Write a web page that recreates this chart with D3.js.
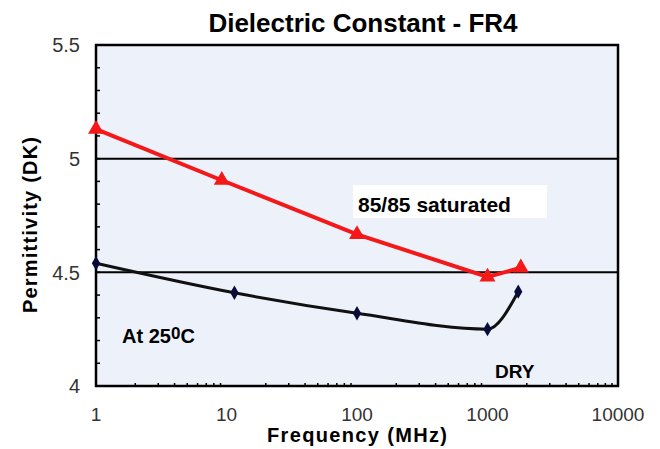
<!DOCTYPE html>
<html>
<head>
<meta charset="utf-8">
<script src="https://cdn.jsdelivr.net/npm/d3@7"></script>
<style>
  body { margin: 0; background: #fff; }
  text { font-family: "Liberation Sans", Arial, sans-serif; }
</style>
</head>
<body>
<div id="chart"></div>
<script>
// 85/85 saturated curve (red triangles)
var satFreq = [1, 9.2, 100, 1000, 1800];
var satDk = [5.13, 4.905, 4.667, 4.48, 4.52];

// dry curve (dark diamonds)
var dryFreq = [1, 11.5, 100, 1000, 1720];
var dryDk = [4.54, 4.41, 4.32, 4.25, 4.415];

var xTicks = [1, 10, 100, 1000, 10000];
var yTicks = [4, 4.5, 5, 5.5];
var gridLines = [4.5, 5];

var width = 660, height = 449;
var margin = {top: 45, right: 42, bottom: 63, left: 96};

var svg = d3.select("#chart").append("svg")
    .attr("width", width)
    .attr("height", height);

var x = d3.scaleLog()
    .domain([1, 10000])
    .range([margin.left, width - margin.right]);

var y = d3.scaleLinear()
    .domain([4, 5.5])
    .range([height - margin.bottom, margin.top]);

// plot background
svg.append("rect")
    .attr("x", x(1)).attr("y", y(5.5))
    .attr("width", x(10000) - x(1))
    .attr("height", y(4) - y(5.5))
    .attr("fill", "#edf1fa");

// horizontal grid
svg.selectAll(".grid")
    .data(gridLines)
    .enter().append("line")
    .attr("x1", x(1)).attr("x2", x(10000))
    .attr("y1", function(d) { return y(d); })
    .attr("y2", function(d) { return y(d); })
    .attr("stroke", "#000")
    .attr("stroke-width", 2);

// minor ticks, pointing inward
var yMinor = d3.range(40, 55).map(function(v) { return v / 10; });
svg.selectAll(".ymin")
    .data(yMinor)
    .enter().append("line")
    .attr("x1", x(1)).attr("x2", x(1) + 4)
    .attr("y1", function(d) { return y(d); })
    .attr("y2", function(d) { return y(d); })
    .attr("stroke", "#000")
    .attr("stroke-width", 1.5);

var xMinor = [];
[1, 10, 100, 1000].forEach(function(dec) {
  for (var k = 2; k <= 9; k++) xMinor.push(dec * k);
});
svg.selectAll(".xmin")
    .data(xMinor)
    .enter().append("line")
    .attr("x1", function(d) { return x(d); })
    .attr("x2", function(d) { return x(d); })
    .attr("y1", y(4)).attr("y2", y(4) - 3)
    .attr("stroke", "#000")
    .attr("stroke-width", 1.5);

// frame
svg.append("rect")
    .attr("x", x(1)).attr("y", y(5.5))
    .attr("width", x(10000) - x(1))
    .attr("height", y(4) - y(5.5))
    .attr("fill", "none")
    .attr("stroke", "#000")
    .attr("stroke-width", 2.5);

// tick labels
svg.selectAll(".ylab")
    .data(yTicks)
    .enter().append("text")
    .attr("x", x(1) - 16)
    .attr("y", function(d) { return y(d); })
    .attr("dy", "0.36em")
    .attr("text-anchor", "end")
    .attr("font-size", 20)
    .attr("fill", "#333")
    .text(function(d) { return d; });

svg.selectAll(".xlab")
    .data(xTicks)
    .enter().append("text")
    .attr("x", function(d) { return x(d); })
    .attr("y", 421)
    .attr("text-anchor", "middle")
    .attr("font-size", 19)
    .attr("fill", "#333")
    .text(function(d) { return d; });

// title and axis titles
svg.append("text")
    .attr("x", 363).attr("y", 32)
    .attr("text-anchor", "middle")
    .attr("font-size", 26)
    .attr("font-weight", "bold")
    .text("Dielectric Constant - FR4");

svg.append("text")
    .attr("x", 357).attr("y", 442)
    .attr("text-anchor", "middle")
    .attr("font-size", 20)
    .attr("font-weight", "bold")
    .attr("textLength", 180)
    .text("Frequency (MHz)");

svg.append("text")
    .attr("transform", "translate(37,225) rotate(-90)")
    .attr("text-anchor", "middle")
    .attr("font-size", 20)
    .attr("font-weight", "bold")
    .attr("textLength", 176)
    .text("Permittivity (DK)");

// label box
svg.append("rect")
    .attr("x", 353).attr("y", 185)
    .attr("width", 194).attr("height", 33)
    .attr("fill", "#fff");

svg.append("text")
    .attr("x", 358).attr("y", 212)
    .attr("font-size", 21)
    .attr("font-weight", "bold")
    .text("85/85 saturated");

var at = svg.append("text")
    .attr("x", 122).attr("y", 343)
    .attr("font-size", 20)
    .attr("font-weight", "bold");
at.append("tspan").text("At 25");
at.append("tspan").attr("dy", -4).attr("font-size", 17).text("0");
at.append("tspan").attr("dy", 4).text("C");

svg.append("text")
    .attr("x", 495).attr("y", 378)
    .attr("font-size", 19)
    .attr("font-weight", "bold")
    .text("DRY");

// lines
var sat = satFreq.map(function(f, i) { return [f, satDk[i]]; });
var dry = dryFreq.map(function(f, i) { return [f, dryDk[i]]; });

var lineSat = d3.line()
    .x(function(d) { return x(d[0]); })
    .y(function(d) { return y(d[1]); });

var lineDry = d3.line()
    .curve(d3.curveMonotoneX)
    .x(function(d) { return x(d[0]); })
    .y(function(d) { return y(d[1]); });

svg.append("path")
    .datum(dry)
    .attr("d", lineDry)
    .attr("fill", "none")
    .attr("stroke", "#111")
    .attr("stroke-width", 3);

svg.append("path")
    .datum(sat)
    .attr("d", lineSat)
    .attr("fill", "none")
    .attr("stroke", "#f41818")
    .attr("stroke-width", 4);

var tri = d3.symbol().type(d3.symbolTriangle).size(110);
svg.selectAll(".tri")
    .data(sat)
    .enter().append("path")
    .attr("d", tri)
    .attr("transform", function(d) { return "translate(" + x(d[0]) + "," + y(d[1]) + ")"; })
    .attr("fill", "#f41818");

var dia = d3.symbol().type(d3.symbolDiamond).size(60);
svg.selectAll(".dia")
    .data(dry)
    .enter().append("path")
    .attr("d", dia)
    .attr("transform", function(d) { return "translate(" + x(d[0]) + "," + y(d[1]) + ")"; })
    .attr("fill", "#0b0b3a");
</script>
</body>
</html>
